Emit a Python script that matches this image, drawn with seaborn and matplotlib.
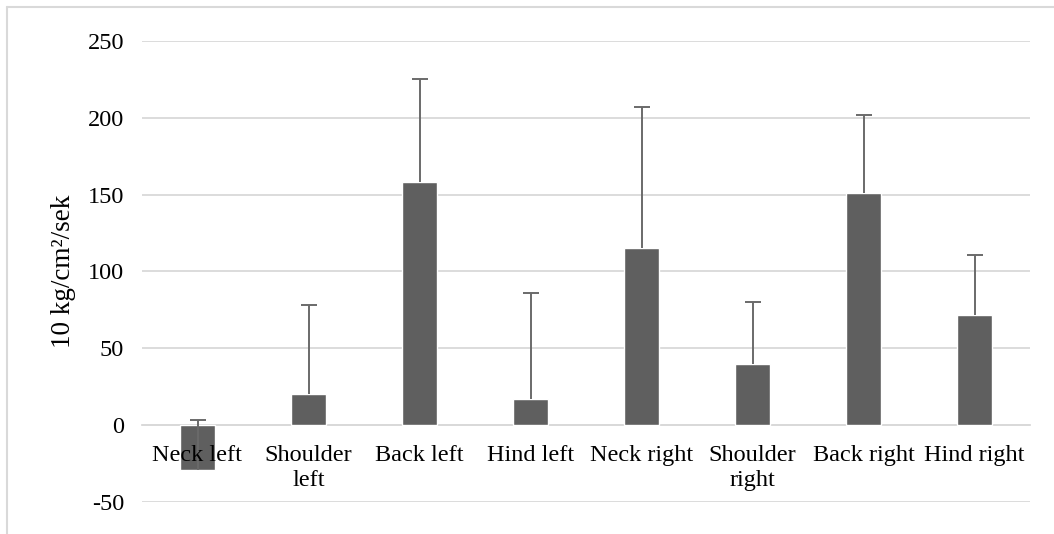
import numpy as np
import pandas as pd
import matplotlib
matplotlib.use("Agg")
import matplotlib.pyplot as plt
from matplotlib.lines import Line2D
import seaborn as sns

# Regions and measured pressure-rate values (mean and upper error)
regions = ["Neck left", "Shoulder\nleft", "Back left", "Hind left",
           "Neck right", "Shoulder\nright", "Back right", "Hind right"]
means = [-29, 20, 158, 17, 115, 40, 151, 72]
upper_err = [32.5, 58, 67, 69, 92, 40, 51, 39]
y_ticks = [-50, 0, 50, 100, 150, 200, 250]

sns.set_theme(style="white")
plt.rcParams["font.family"] = ["Liberation Serif", "DejaVu Serif"]
plt.rcParams["axes.unicode_minus"] = False

fig = plt.figure(figsize=(10.54, 5.34), dpi=100)
ax = fig.add_axes([142 / 1054, 1 - 502 / 534, (1030 - 142) / 1054, (502 - 41) / 534])

df = pd.DataFrame({"region": regions, "value": means})
sns.barplot(data=df, x="region", y="value", color="#5f5f5f", saturation=1,
            width=0.32, ax=ax, zorder=3)

x = np.arange(len(regions))
eb = ax.errorbar(x, means, yerr=[np.zeros(len(means)), upper_err], fmt="none",
                 ecolor="#6a6a6a", elinewidth=1.4, capsize=5.8, capthick=1.4,
                 zorder=4)
# plus-direction error bars only: hide the cap at the bar end
eb[1][0].set_visible(False)

ax.set_ylim(-50, 250)
ax.set_xlim(-0.5, len(regions) - 0.5)
ax.set_yticks(y_ticks)
ax.yaxis.grid(True, color="#d9d9d9", linewidth=1.3)
ax.yaxis.set_zorder(0.5)
ax.xaxis.set_zorder(6)

for side in ["top", "right", "left"]:
    ax.spines[side].set_visible(False)
ax.spines["bottom"].set_position(("data", 0))
ax.spines["bottom"].set_color("#d9d9d9")
ax.spines["bottom"].set_linewidth(1.3)
ax.spines["bottom"].set_zorder(1)

ax.tick_params(axis="y", length=0, pad=13, labelsize=17.5, labelcolor="black")
ax.tick_params(axis="x", length=0, pad=14, labelsize=17.5, labelcolor="black")
for lbl in ax.get_xticklabels():
    lbl.set_linespacing(1.3)

ax.set_xlabel("")
ax.set_ylabel("10 kg/cm²/sek", fontsize=19.5, color="black", labelpad=8)

# Light frame along the left and top edges of the figure
fig.add_artist(Line2D([7 / 1054, 7 / 1054], [0, 1 - 7 / 534],
                      transform=fig.transFigure, color="#d9d9d9", linewidth=1.5))
fig.add_artist(Line2D([7 / 1054, 1], [1 - 7 / 534, 1 - 7 / 534],
                      transform=fig.transFigure, color="#d9d9d9", linewidth=1.5))

fig.savefig("out.png", dpi=100, facecolor="white")
